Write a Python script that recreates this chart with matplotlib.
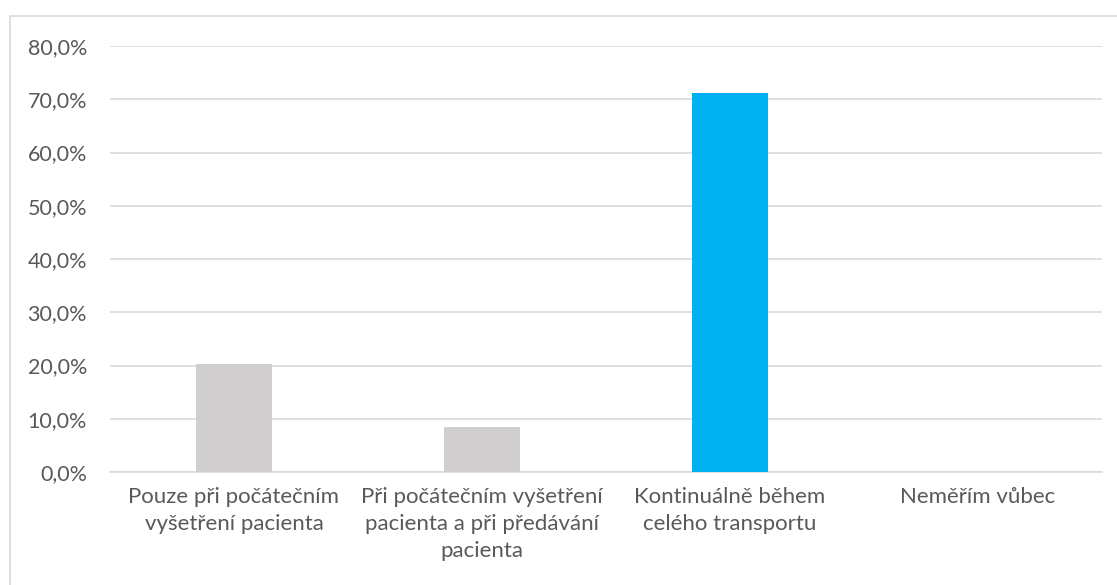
import matplotlib.pyplot as plt
from matplotlib.patches import Rectangle
from matplotlib.ticker import FuncFormatter

categories = [
    "Pouze při počátečním\nvyšetření pacienta",
    "Při počátečním vyšetření\npacienta a při předávání\npacienta",
    "Kontinuálně během\ncelého transportu",
    "Neměřím vůbec",
]
values = [20.3, 8.5, 71.2, 0.0]
bar_colors = ["#D0CECE", "#D0CECE", "#00B0F0", "#D0CECE"]

plt.rcParams["font.family"] = ["Lato", "DejaVu Sans"]
text_color = "#595959"

fig = plt.figure(figsize=(11.17, 5.85), dpi=100)
ax = fig.add_axes([110 / 1117, 1 - 472 / 585, 992 / 1117, 426 / 585])

# outer chart border (only left/top visible in the crop)
fig.patches.append(Rectangle((10 / 1117, -0.1), 1.2, 1 - 16 / 585 + 0.1,
                             transform=fig.transFigure, fill=False,
                             edgecolor="#D9D9D9", linewidth=1.2))

x = range(len(categories))
ax.bar(x, values, width=0.31, color=bar_colors, zorder=3)

ax.set_xlim(-0.5, 3.5)
ax.set_ylim(0, 80)
ax.set_yticks(range(0, 81, 10))
ax.yaxis.set_major_formatter(FuncFormatter(lambda v, p: f"{v:.1f}%".replace(".", ",")))
ax.grid(axis="y", color="#D9D9D9", linewidth=1.2, zorder=0)

for s in ["top", "right", "left"]:
    ax.spines[s].set_visible(False)
ax.spines["bottom"].set_color("#D9D9D9")
ax.spines["bottom"].set_linewidth(1.2)

ax.set_xticks(list(x))
ax.set_xticklabels(categories, fontsize=16, color=text_color, linespacing=1.42,
                   va="top")
ax.tick_params(axis="x", length=0, pad=11)
ax.tick_params(axis="y", length=0, pad=16.5, labelsize=15.5, labelcolor=text_color)

fig.savefig("out.png", dpi=100)
